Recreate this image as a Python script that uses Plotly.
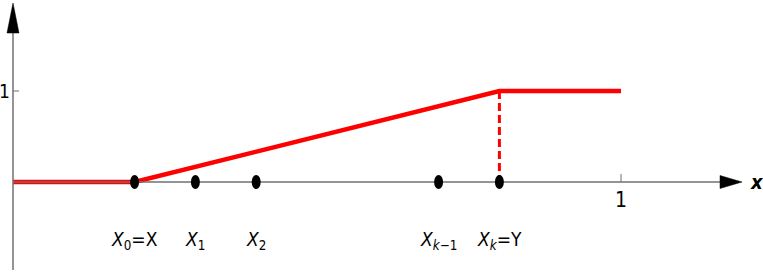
import plotly.graph_objects as go

# data
cdf_x = [0.0, 0.2, 0.8, 1.0]
cdf_y = [0.0, 0.0, 1.0, 1.0]
pts_x = [0.2, 0.3, 0.4, 0.7, 0.8]
pts_labels = ["<i>X</i><sub>0</sub>=X", "<i>X</i><sub>1</sub>", "<i>X</i><sub>2</sub>",
              "<i>X</i><sub><i>k</i>−1</sub>", "<i>X</i><sub><i>k</i></sub>=Y"]
x_ticks = [1]
y_ticks = [1]

W, H = 763, 273
x0_px, y0_px = 13, 182
sx, sy = 608.0, 91.0
xr = [-x0_px / sx, (W - x0_px) / sx]
yr = [-(H - y0_px) / sy, y0_px / sy]
px = lambda p: p / sx
py = lambda p: p / sy

FONT = "DejaVu Sans Condensed, Liberation Sans Narrow, Arial Narrow, Liberation Sans, sans-serif"
AX = "#707070"
RED = "#ff0000"

fig = go.Figure()
shapes = []
# axes lines
x_tip = px(742 - x0_px)
y_tip = py(y0_px - 3)
shapes.append(dict(type="line", x0=0, x1=x_tip - px(10), y0=0, y1=0, line=dict(color=AX, width=1.5)))
shapes.append(dict(type="line", x0=0, x1=0, y0=yr[0] + py(3), y1=y_tip - py(10), line=dict(color=AX, width=1.5)))
# arrowheads
xb = x_tip - px(22)
shapes.append(dict(type="path", path=f"M {x_tip},0 L {xb},{py(6.5)} L {xb},{-py(6.5)} Z",
                   fillcolor="black", line=dict(color="black", width=0.5)))
yb = y_tip - py(30)
shapes.append(dict(type="path", path=f"M 0,{y_tip} L {px(6)},{yb} L {-px(6)},{yb} Z",
                   fillcolor="black", line=dict(color="black", width=0.5)))
# ticks
for t in x_ticks:
    shapes.append(dict(type="line", x0=t, x1=t, y0=0, y1=py(8), line=dict(color=AX, width=1)))
for t in y_ticks:
    shapes.append(dict(type="line", x0=0, x1=px(6), y0=t, y1=t, line=dict(color=AX, width=1)))

# red cdf line
fig.add_trace(go.Scatter(x=cdf_x, y=cdf_y, mode="lines", line=dict(color=RED, width=4.5),
                         hoverinfo="skip", showlegend=False))
# dashed vertical at last point
fig.add_trace(go.Scatter(x=[cdf_x[2], cdf_x[2]], y=[cdf_y[2], cdf_y[1]], mode="lines",
                         line=dict(color=RED, width=3, dash="8px,4px"),
                         hoverinfo="skip", showlegend=False))
# elliptical dots
for x in pts_x:
    shapes.append(dict(type="circle", x0=x - px(4.5), x1=x + px(4.5), y0=-py(7), y1=py(7),
                       fillcolor="black", line=dict(width=0)))

ann = []
for x, lab in zip(pts_x, pts_labels):
    ann.append(dict(x=x, y=-py(58), text=lab, showarrow=False, xanchor="center", yanchor="middle",
                    font=dict(family=FONT, size=19, color="black")))
for t in x_ticks:
    ann.append(dict(x=t, y=-py(18), text=str(t), showarrow=False, yanchor="middle",
                    font=dict(family=FONT, size=21, color="black")))
for t in y_ticks:
    ann.append(dict(x=-px(9), y=t, text=str(t), showarrow=False, xanchor="center", yanchor="middle",
                    font=dict(family=FONT, size=19, color="black")))
ann.append(dict(x=px(757 - x0_px), y=0, text="<b><i>x</i></b>", showarrow=False, yanchor="middle",
                font=dict(family=FONT, size=20, color="black")))

fig.update_layout(width=W, height=H, margin=dict(l=0, r=0, t=0, b=0),
                  paper_bgcolor="white", plot_bgcolor="white",
                  xaxis=dict(range=xr, visible=False, fixedrange=True),
                  yaxis=dict(range=yr, visible=False, fixedrange=True),
                  shapes=shapes, annotations=ann, showlegend=False)
fig.write_html("out.html", config={"displayModeBar": False},
               post_script="document.body.style.margin='0';document.body.style.overflow='hidden';")
